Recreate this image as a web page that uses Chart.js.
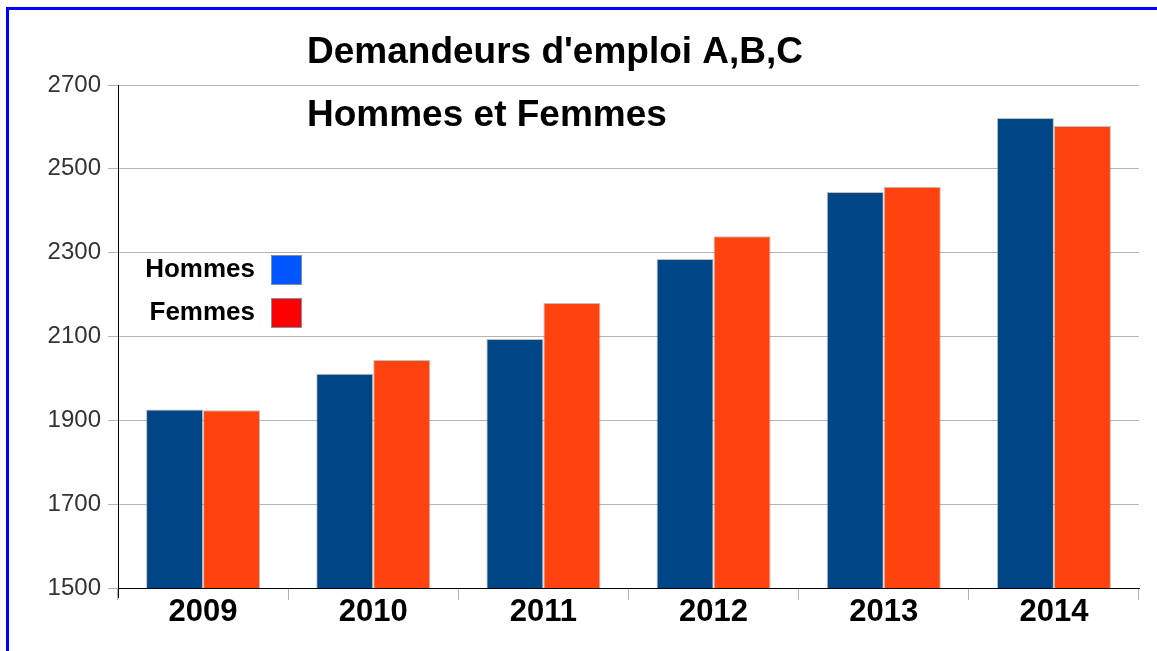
<!DOCTYPE html>
<html>
<head>
<meta charset="utf-8">
<script src="https://cdn.jsdelivr.net/npm/chart.js@4/dist/chart.umd.min.js"></script>
<style>
  html, body { margin: 0; padding: 0; background: #fff; }
  #wrap { width: 1157px; height: 651px; position: relative; }
</style>
</head>
<body>
<div id="wrap"><canvas id="chart" width="1157" height="651"></canvas></div>
<script>
"use strict"

// data
const years = ['2009', '2010', '2011', '2012', '2013', '2014'];
const hommes = [1926, 2011, 2094, 2285, 2445, 2621];
const femmes = [1924, 2044, 2180, 2339, 2457, 2602];
const titleLines = ["Demandeurs d'emploi A,B,C", 'Hommes et Femmes'];
const legendNames = ['Hommes', 'Femmes'];
const legendColors = ['#0055ff', '#ff0000'];

const FONT = "'Liberation Sans', Arial, sans-serif";

// blue frame, title and the odd little legend
const decor = {
  id: 'decor',
  afterDraw: (chart) => {
    const {ctx} = chart;
    ctx.save();
    ctx.strokeStyle = '#0000ff';
    ctx.lineWidth = 3;
    ctx.strokeRect(7.5, 8.5, 1200, 700);

    // y axis runs a bit below the x axis
    ctx.strokeStyle = '#000';
    ctx.lineWidth = 1;
    ctx.beginPath();
    ctx.moveTo(118.5, 588);
    ctx.lineTo(118.5, 598);
    ctx.stroke();

    ctx.fillStyle = '#000';
    ctx.font = 'bold 37px ' + FONT;
    ctx.textAlign = 'left';
    ctx.textBaseline = 'middle';
    ctx.fillText(titleLines[0], 307, 53);
    ctx.fillText(titleLines[1], 307, 116);

    ctx.font = 'bold 26px ' + FONT;
    ctx.textAlign = 'right';
    const ys = [270, 313];
    legendNames.forEach((name, i) => {
      ctx.fillStyle = '#000';
      ctx.fillText(name, 255, ys[i]);
      ctx.fillStyle = legendColors[i];
      ctx.fillRect(271, ys[i] - 15, 31, 30);
      ctx.strokeStyle = '#7f8fa6';
      ctx.lineWidth = 1;
      ctx.strokeRect(271.5, ys[i] - 14.5, 30, 29);
    });
    ctx.restore();
  }
};

new Chart(document.getElementById('chart'), {
  type: 'bar',
  data: {
    labels: years,
    datasets: [
      {
        label: legendNames[0],
        data: hommes,
        backgroundColor: '#004586',
        borderColor: 'rgba(150,150,150,0.6)',
        borderWidth: 1,
        borderSkipped: 'bottom'
      },
      {
        label: legendNames[1],
        data: femmes,
        backgroundColor: '#ff420e',
        borderColor: 'rgba(150,150,150,0.6)',
        borderWidth: 1,
        borderSkipped: 'bottom'
      }
    ]
  },
  options: {
    responsive: false,
    animation: false,
    layout: { padding: { left: 0, top: 85, right: 18, bottom: 0 } },
    datasets: { bar: { categoryPercentage: 0.67, barPercentage: 1.0 } },
    plugins: {
      legend: { display: false },
      title: { display: false },
      tooltip: { enabled: false }
    },
    scales: {
      x: {
        afterFit: (scale) => { scale.height = 63; },
        grid: {
          offset: true,
          drawOnChartArea: true,
          color: (c) => c.index === years.length ? '#b3b3b3' : 'rgba(0,0,0,0)',
          tickColor: '#b3b3b3',
          tickLength: 12
        },
        border: { color: '#000', width: 1 },
        ticks: {
          color: '#000',
          font: { family: FONT, size: 31, weight: 'bold' },
          padding: -6
        }
      },
      y: {
        min: 1500,
        max: 2700,
        afterFit: (scale) => { scale.width = 118; },
        grid: {
          color: '#b3b3b3',
          tickColor: '#b3b3b3',
          tickLength: 10
        },
        border: { color: '#000', width: 1 },
        ticks: {
          stepSize: 200,
          color: '#333',
          font: { family: FONT, size: 24 },
          padding: 7,
          callback: (v) => String(v)
        }
      }
    }
  },
  plugins: [decor]
});
</script>
</body>
</html>
